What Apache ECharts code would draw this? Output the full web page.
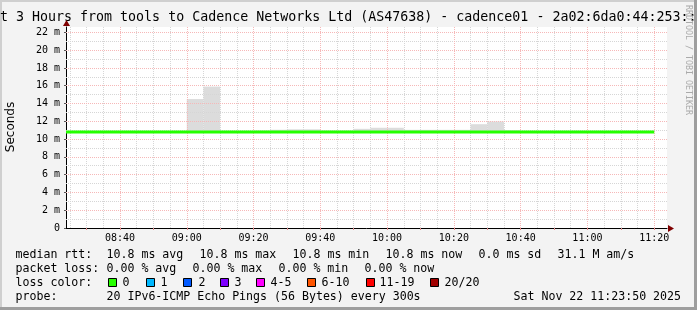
<!DOCTYPE html>
<html><head><meta charset="utf-8">
<script src="https://cdn.jsdelivr.net/npm/echarts@6/dist/echarts.min.js"></script>
<style>html,body{margin:0;padding:0;background:#f3f3f3}#c{width:697px;height:310px}</style>
</head><body><div id="c"></div>
<script>
// ---- data ----
const viewStart = '08:23:50';
const viewEnd = '11:23:50';
const slotStarts = ['08:20','08:25','08:30','08:35','08:40','08:45','08:50','08:55',
  '09:00','09:05','09:10','09:15','09:20','09:25','09:30','09:35',
  '09:40','09:45','09:50','09:55','10:00','10:05','10:10','10:15',
  '10:20','10:25','10:30','10:35','10:40','10:45','10:50','10:55',
  '11:00','11:05','11:10','11:15'];
const smokeTop = [10.9,10.9,10.9,10.9,10.9,10.9,10.9,10.9,
  14.5,15.9,10.9,10.9,10.95,11.05,11.1,11.1,
  10.95,10.95,11.15,11.27,11.27,11.04,11.04,11.04,
  11.04,11.67,11.98,11.0,10.9,10.9,10.9,10.9,
  10.9,10.9,10.9,10.9];
const smokeBottom = [10.7,10.7,10.7,10.7,10.7,10.7,10.7,10.7,
  10.7,10.7,10.7,10.7,10.7,10.7,10.7,10.7,
  10.7,10.7,10.7,10.7,10.7,10.7,10.7,10.7,
  10.7,10.7,10.7,10.7,10.7,10.7,10.7,10.7,
  10.7,10.7,10.7,10.7];
const medianRtt = [10.8,10.8,10.8,10.8,10.8,10.8,10.8,10.8,
  10.8,10.8,10.8,10.8,10.8,10.8,10.8,10.8,
  10.8,10.8,10.8,10.8,10.8,10.8,10.8,10.8,
  10.8,10.8,10.8,10.8,10.8,10.8,10.8,10.8,
  10.8,10.8,10.8,10.8];
const yTicks = [0,2,4,6,8,10,12,14,16,18,20,22];
const xLabels = ['08:40','09:00','09:20','09:40','10:00','10:20','10:40','11:00','11:20'];
const rttStats = [10.8, 10.8, 10.8, 10.8]; // avg max min now
const rttSd = 0.0;
const amps = 31.1;
const lossStats = [0.00, 0.00, 0.00, 0.00];
const lossLabels = ['0','1','2','3','4-5','6-10','11-19','20/20'];
const lossColors = ['#26ff00','#00b8ff','#0059ff','#7e00ff','#ff00ff','#ff5500','#ff0000','#a10000'];
const titleText = 'Last 3 Hours from tools to Cadence Networks Ltd (AS47638) - cadence01 - 2a02:6da0:44:253::2';
const probeText = '20 IPv6-ICMP Echo Pings (56 Bytes) every 300s';
const dateText = 'Sat Nov 22 11:23:50 2025';

// ---- helpers ----
const toMin = s => { const p = s.split(':').map(Number); return p[0]*60 + p[1] + (p[2]||0)/60; };
const fmt = m => { const h = Math.floor(m/60), mm = Math.round(m - h*60); return String(h).padStart(2,'0') + ':' + String(mm).padStart(2,'0'); };
const SLOT = 5;
const x0 = toMin(viewStart), x1 = toMin(viewEnd);
const last = slotStarts.length - 1;
const smokeData = slotStarts.map((s,i) => [Math.max(toMin(s), x0), toMin(s) + SLOT, smokeBottom[i], smokeTop[i]]);
const medianData = slotStarts.map((s,i) => [Math.max(toMin(s), x0), medianRtt[i]])
  .concat([[toMin(slotStarts[last]) + SLOT, medianRtt[last]]]);
const minorX = [], majorX = [], tickX = [];
for (let m = Math.ceil(x0/5)*5; m <= x1; m += 5) { if (m % 20 === 0) majorX.push(m); else minorX.push(m); }
for (let m = Math.ceil(x0/10)*10; m <= x1; m += 10) tickX.push(m);
const minorY = [], majorY = [];
for (let v = 1; v <= 22; v++) { if (v % 2) minorY.push(v); else majorY.push(v); }

const MONO = 'DejaVu Sans Mono';
const GRAY = '#d6d6d6', RED = '#f6b8b8';
const mk = (arr, key, color) => ({
  silent: true, symbol: 'none', label: {show: false}, z: 2, animation: false,
  lineStyle: {color: color, width: 1, type: [1, 1]},
  emphasis: {disabled: true},
  data: arr.map(v => ({[key]: v}))
});

const chart = echarts.init(document.getElementById('c'), null, {renderer: 'canvas'});
const legendFont = '11.6px ' + MONO;
const gtext = (x, y, t, extra) => Object.assign({type: 'text', x: x, y: y, silent: true,
  style: Object.assign({text: t, font: legendFont, fill: '#000', verticalAlign: 'middle', align: 'left'}, extra || {})});

const graphics = [
  {type: 'rect', shape: {x: 0, y: 0, width: 697, height: 2}, style: {fill: '#cfcfcf'}, silent: true},
  {type: 'rect', shape: {x: 0, y: 0, width: 2, height: 310}, style: {fill: '#cfcfcf'}, silent: true},
  {type: 'rect', shape: {x: 0, y: 307, width: 697, height: 3}, style: {fill: '#9e9e9e'}, silent: true},
  {type: 'rect', shape: {x: 694, y: 0, width: 3, height: 310}, style: {fill: '#9e9e9e'}, silent: true},
  gtext(-24, 18, titleText, {font: '13.3px ' + MONO}),
  {type: 'text', x: 11, y: 127, rotation: Math.PI/2, silent: true,
   style: {text: 'Seconds', font: '12px DejaVu Sans', fill: '#000', align: 'center', verticalAlign: 'middle'}},
  {type: 'text', x: 688, y: 5, rotation: -Math.PI/2, silent: true,
   style: {text: 'RRDTOOL / TOBI OETIKER', font: '8.3px ' + MONO, fill: '#aaaaaa', align: 'left', verticalAlign: 'middle'}},
  {type: 'polygon', shape: {points: [[63, 26], [70, 26], [66.5, 20]]}, style: {fill: '#7f0000'}, silent: true, z: 10},
  {type: 'polygon', shape: {points: [[668, 225], [668, 232], [674, 228.5]]}, style: {fill: '#7f0000'}, silent: true, z: 10},
  gtext(15.5, 254.5, 'median rtt:'),
  gtext(106.5, 254.5, rttStats[0].toFixed(1) + ' ms avg'),
  gtext(199.5, 254.5, rttStats[1].toFixed(1) + ' ms max'),
  gtext(292.5, 254.5, rttStats[2].toFixed(1) + ' ms min'),
  gtext(385.5, 254.5, rttStats[3].toFixed(1) + ' ms now'),
  gtext(478.5, 254.5, rttSd.toFixed(1) + ' ms sd'),
  gtext(557.5, 254.5, amps.toFixed(1) + ' M am/s'),
  gtext(15.5, 268.5, 'packet loss:'),
  gtext(106.5, 268.5, lossStats[0].toFixed(2) + ' % avg'),
  gtext(192.5, 268.5, lossStats[1].toFixed(2) + ' % max'),
  gtext(278.5, 268.5, lossStats[2].toFixed(2) + ' % min'),
  gtext(364.5, 268.5, lossStats[3].toFixed(2) + ' % now'),
  gtext(15.5, 282.5, 'loss color:'),
  gtext(15.5, 296.5, 'probe:'),
  gtext(106.5, 296.5, probeText),
  gtext(513.5, 296.5, dateText)
];
const boxX = [108, 146, 183, 220, 256, 307, 366, 430];
const boxTextX = [122.5, 160.5, 198.5, 234.5, 270.5, 321.5, 379.5, 444.5];
lossLabels.forEach((l, i) => {
  graphics.push({type: 'rect', shape: {x: boxX[i] + 0.5, y: 278.5, width: 8, height: 8},
    style: {fill: lossColors[i], stroke: '#000', lineWidth: 1}, silent: true});
  graphics.push(gtext(boxTextX[i], 282.5, l));
});

chart.setOption({
  animation: false,
  backgroundColor: '#f3f3f3',
  grid: {left: 66, right: 30, top: 27, bottom: 82, show: true, backgroundColor: '#ffffff', borderWidth: 0},
  xAxis: {
    type: 'value', min: x0, max: x1,
    axisLine: {show: true, onZero: false, lineStyle: {color: '#000', width: 1}},
    axisTick: {show: true, length: 2, customValues: tickX, lineStyle: {color: '#e08888'}},
    axisLabel: {customValues: xLabels.map(toMin), formatter: v => fmt(v), fontFamily: MONO, fontSize: 10, color: '#000', margin: 5},
    splitLine: {show: false}
  },
  yAxis: {
    type: 'value', min: 0, max: 22.6,
    axisLine: {show: true, lineStyle: {color: '#000', width: 1}},
    axisTick: {show: true, length: 2, customValues: yTicks, lineStyle: {color: '#555'}},
    axisLabel: {customValues: yTicks, formatter: v => v === 0 ? '0' : v + ' m', fontFamily: MONO, fontSize: 10, color: '#000', margin: 6},
    splitLine: {show: false}
  },
  series: [
    {
      type: 'custom', z: 1, clip: true, silent: true,
      data: smokeData,
      renderItem: (params, api) => {
        const p0 = api.coord([api.value(0), api.value(3)]);
        const p1 = api.coord([api.value(1), api.value(2)]);
        return {type: 'rect', shape: {x: p0[0], y: p0[1], width: p1[0] - p0[0], height: p1[1] - p0[1]},
          style: {fill: '#dcdcdc'}};
      }
    },
    {type: 'line', data: [], z: 2, markLine: mk(minorY, 'yAxis', GRAY)},
    {type: 'line', data: [], z: 2, markLine: mk(minorX, 'xAxis', GRAY)},
    {type: 'line', data: [], z: 2, markLine: mk(majorY, 'yAxis', RED)},
    {type: 'line', data: [], z: 2, markLine: mk(majorX, 'xAxis', RED)},
    {
      type: 'line', z: 5, data: medianData, step: 'start', symbol: 'none', silent: true,
      lineStyle: {color: '#26ff00', width: 3}, clip: true
    }
  ],
  graphic: graphics
});
</script>
</body></html>
